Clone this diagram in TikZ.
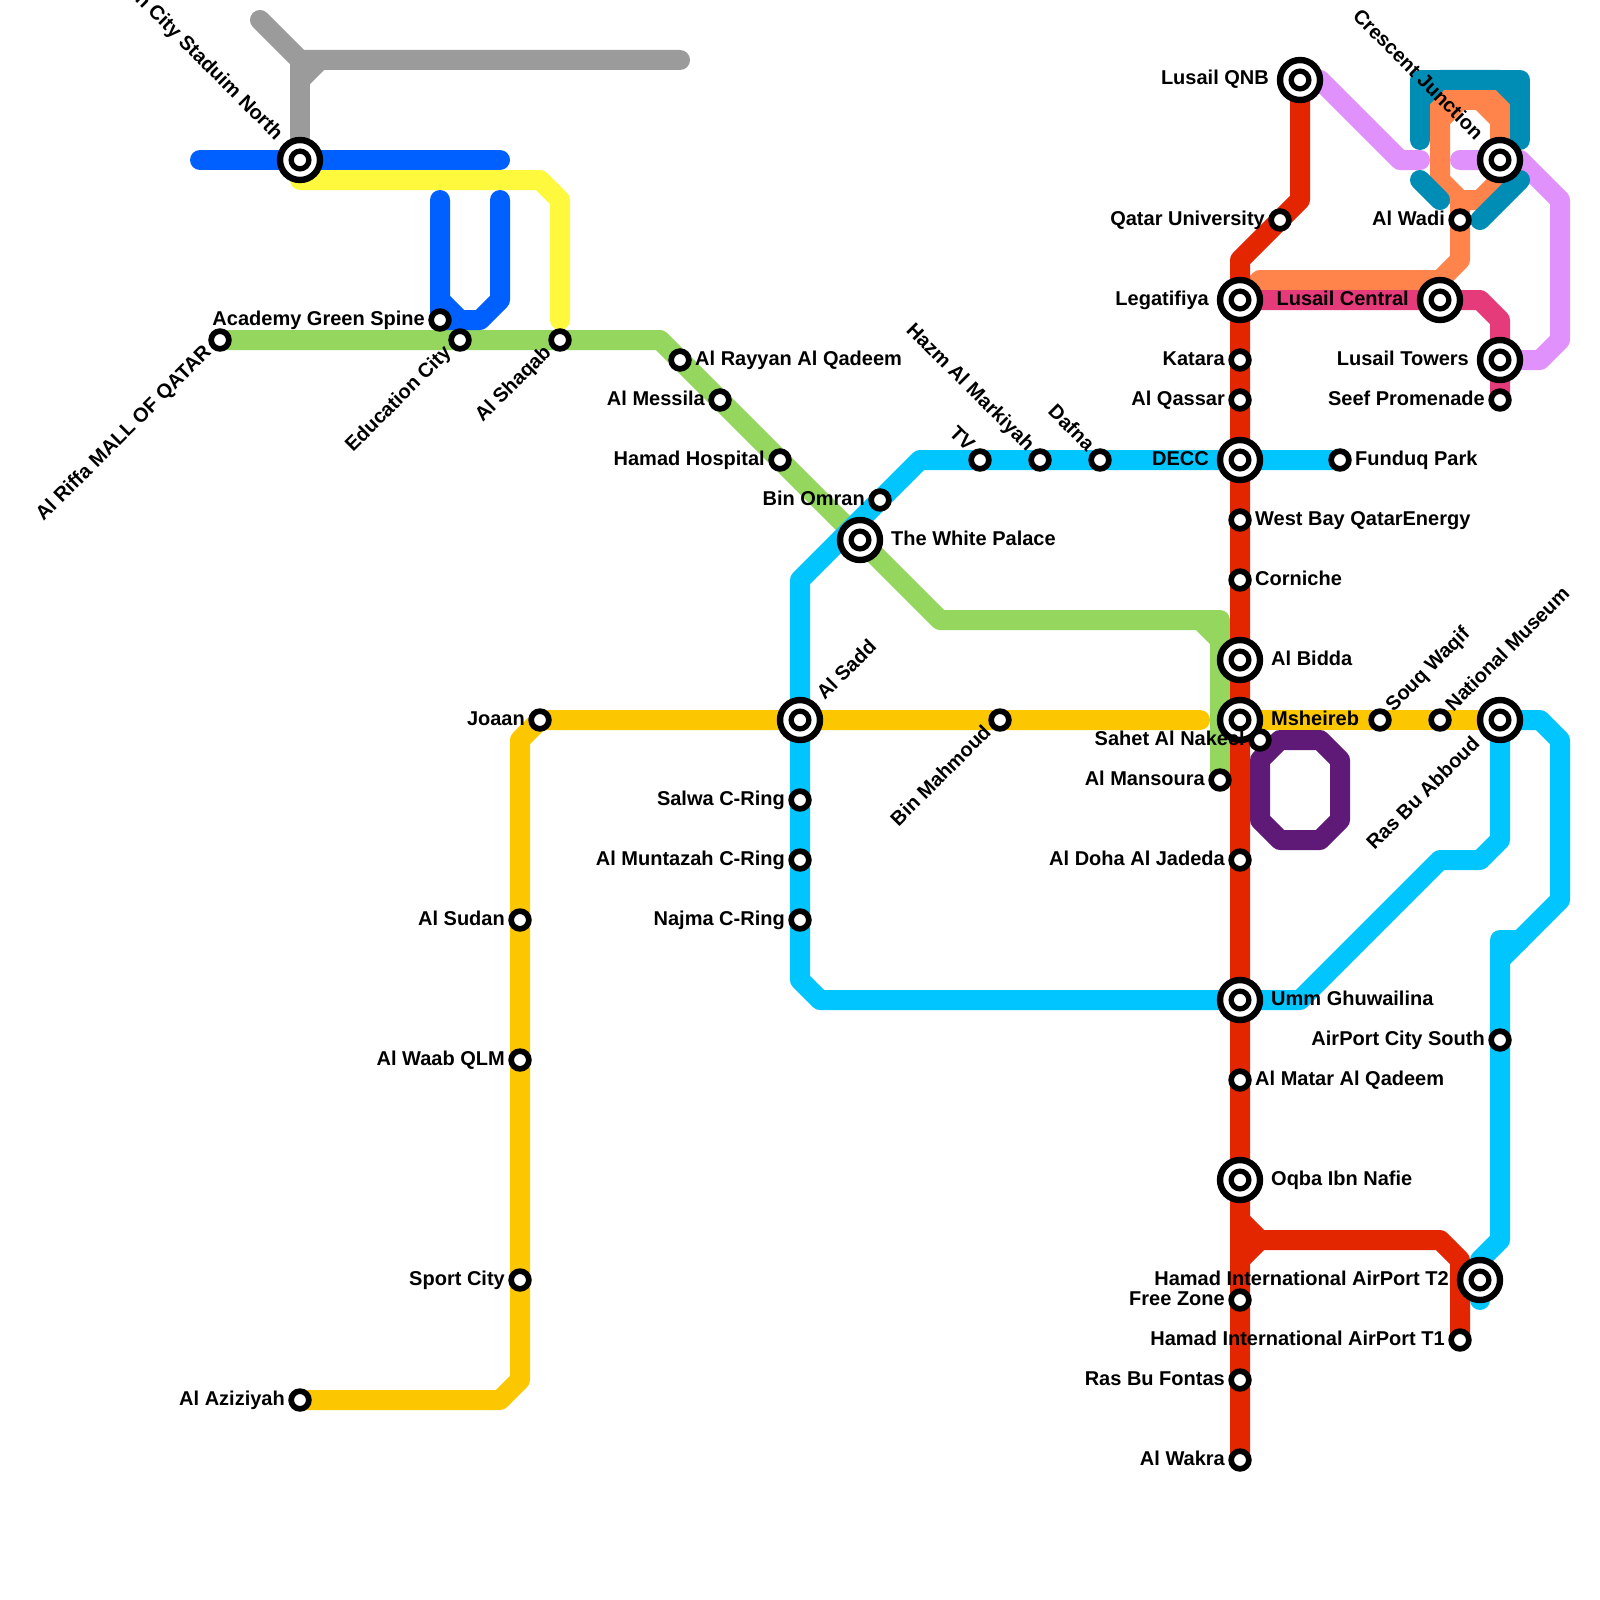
\documentclass[tikz,border=0pt]{standalone}
\usepackage{fontspec}
\setmainfont{Liberation Sans}
\usetikzlibrary{calc,backgrounds}
\definecolor{cRed}{HTML}{E32500}
\definecolor{cCyan}{HTML}{00C5FF}
\definecolor{cGreen}{HTML}{95D65F}
\definecolor{cGold}{HTML}{FDC700}
\definecolor{cBlue}{HTML}{0060FF}
\definecolor{cYellow}{HTML}{FFF93E}
\definecolor{cGray}{HTML}{9B9B9B}
\definecolor{cTeal}{HTML}{008DB5}
\definecolor{cOrange}{HTML}{FF844B}
\definecolor{cViolet}{HTML}{E091FB}
\definecolor{cPink}{HTML}{E63B7A}
\definecolor{cPurple}{HTML}{5F1A78}
\tikzset{
  route/.style={draw=#1,line width=20pt,line cap=round,line join=round},
  smallstn/.style={circle,draw=black,fill=white,line width=5.7pt,minimum size=17.7pt,inner sep=0pt},
  bigstn/.style={circle,draw=black,fill=white,line width=6.4pt,minimum size=40pt,inner sep=0pt},
  hubdot/.style={circle,draw=black,fill=white,line width=5.3pt,minimum size=17.7pt,inner sep=0pt},
  lbl/.style={font=\fontsize{20}{20}\selectfont\bfseries,inner sep=0pt,text=black}
}
% small / interchange stations
\newcommand{\sst}[2]{\node[smallstn] (#1) at (#2) {};}
\newcommand{\bst}[2]{\node[bigstn] (#1) at (#2) {};\node[hubdot] (#1-dot) at (#2) {};}
% horizontal labels: #1 name, #2 station, #3 gap, #4 text
\newcommand{\ltxt}[4]{\node[lbl,anchor=base east] (#1) at ($(#2.center)+(-#3,5)$) {#4};}
\newcommand{\rtxt}[4]{\node[lbl,anchor=base west] (#1) at ($(#2.center)+(#3,5)$) {#4};}
% rotated labels
\newcommand{\upstart}[4]{\node[lbl,rotate=45,anchor=base west] (#1) at ($(#2.center)+({(#3+4)*0.707},{(4-#3)*0.707})$) {#4};}
\newcommand{\upend}[4]{\node[lbl,rotate=45,anchor=base east] (#1) at ($(#2.center)+({(4-#3)*0.707},{(#3+4)*0.707})$) {#4};}
\newcommand{\downend}[4]{\node[lbl,rotate=-45,anchor=base east] (#1) at ($(#2.center)+({(-#3-4)*0.707},{(4-#3)*0.707})$) {#4};}
\begin{document}
\begin{tikzpicture}[x=1pt,y=-1pt]
\useasboundingbox (0,0) rectangle (1600,1600);
% stations
\bst{qnb}{1300,80}
\bst{crescent}{1500,160}
\sst{wadi}{1460,220}
\sst{qatu}{1280,220}
\bst{legat}{1240,300}
\bst{central}{1440,300}
\bst{towers}{1500,360}
\sst{seef}{1500,400}
\sst{katara}{1240,360}
\sst{qassar}{1240,400}
\bst{decc}{1240,460}
\sst{funduq}{1340,460}
\sst{westbay}{1240,520}
\sst{corniche}{1240,580}
\bst{bidda}{1240,660}
\bst{msheireb}{1240,720}
\sst{nakeel}{1260,740}
\sst{mansoura}{1220,780}
\sst{doha}{1240,860}
\bst{umm}{1240,1000}
\sst{matar}{1240,1080}
\bst{oqba}{1240,1180}
\sst{freezone}{1240,1300}
\sst{fontas}{1240,1380}
\sst{wakra}{1240,1460}
\sst{tone}{1460,1340}
\bst{ttwo}{1480,1280}
\sst{cityS}{1500,1040}
\bst{abboud}{1500,720}
\sst{museum}{1440,720}
\sst{souq}{1380,720}
\sst{mahmoud}{1000,720}
\bst{sadd}{800,720}
\sst{joaan}{540,720}
\sst{salwa}{800,800}
\sst{muntazah}{800,860}
\sst{najma}{800,920}
\sst{sudan}{520,920}
\sst{waab}{520,1060}
\sst{sport}{520,1280}
\sst{aziz}{300,1400}
\bst{palace}{860,540}
\sst{omran}{880,500}
\sst{tv}{980,460}
\sst{hazm}{1040,460}
\sst{dafna}{1100,460}
\sst{hospital}{780,460}
\sst{messila}{720,400}
\sst{rayyan}{680,360}
\sst{shaqab}{560,340}
\sst{educ}{460,340}
\sst{academy}{440,320}
\sst{riffa}{220,340}
\bst{stadium}{300,160}
% routes
\begin{scope}[on background layer]
\draw[route=cGray] (260,20) -- (300,60) -- (680,60);
\draw[route=cGray] (stadium.center) -- (300,60);
\draw[route=cGray] (300,80) -- (320,60);
\draw[route=cYellow] (stadium.center) ++(0,20) -- (540,180) -- (560,200) -- (560,320);
\draw[route=cGreen] (riffa.center) -- (660,340) -- (rayyan.center) -- (messila.center) -- (hospital.center) -- (palace.center) -- (940,620) -- (1200,620) -- (1220,640) -- (mansoura.center);
\draw[route=cGreen] (1200,620) -- (1220,620) -- (1220,640);
\draw[route=cBlue] (200,160) -- (stadium.center) -- (500,160);
\draw[route=cBlue] (440,200) -- (academy.center) -- (480,320) -- (500,300) -- (500,200);
\draw[route=cBlue] (440,300) -- (460,320);
\draw[route=cGold] (aziz.center) -- (500,1400) -- (520,1380) -- (sport.center) -- (waab.center) -- (sudan.center) -- (520,740) -- (joaan.center) -- (sadd.center) -- (mahmoud.center) -- (1200,720);
\draw[route=cGold] (msheireb.center) -- (souq.center) -- (museum.center) -- (abboud.center);
\draw[route=cCyan] (funduq.center) -- (decc.center) -- (dafna.center) -- (hazm.center) -- (tv.center) -- (920,460) -- (omran.center) -- (800,580) -- (sadd.center) -- (salwa.center) -- (muntazah.center) -- (najma.center) -- (800,980) -- (820,1000) -- (umm.center) -- (1300,1000) -- (1440,860) -- (1480,860) -- (1500,840) -- (abboud.center) -- (1540,720) -- (1560,740) -- (1560,900) -- (1500,960);
\draw[route=cCyan] (1520,940) -- (1500,940) -- (cityS.center) -- (1500,1240) -- (1480,1260) -- (ttwo.center) -- (1480,1300);
\draw[route=cPurple] (1280,740) -- (1320,740) -- (1340,760) -- (1340,820) -- (1320,840) -- (1280,840) -- (1260,820) -- (1260,760) -- cycle;
\draw[route=cViolet] (qnb.center) -- (1320,80) -- (1400,160) -- (1420,160);
\draw[route=cViolet] (1460,160) -- (crescent.center) -- (1520,160) -- (1560,200) -- (1560,340) -- (1540,360) -- (towers.center);
\draw[route=cOrange] (legat.center) -- (1260,280) -- (1440,280) -- (1460,260) -- (wadi.center) -- (1460,200);
\draw[route=cOrange] (1440,180) -- (1460,200) -- (1480,200) -- (1500,180) -- (1500,120) -- (1480,100) -- (1460,100) -- (1440,120) -- cycle;
\draw[route=cOrange] (1440,120) -- (1440,100) -- (1500,100) -- (1500,120);
\draw[route=cPink] (legat.center) -- (central.center) -- (1480,300) -- (1500,320) -- (towers.center) -- (seef.center);
\draw[route=cTeal] (1420,140) -- (1420,80) -- (1520,80) -- (1520,140);
\draw[route=cTeal] (1420,100) -- (1440,80) -- (1500,80) -- (1520,100);
\draw[route=cTeal] (1420,180) -- (1440,200);
\draw[route=cTeal] (1480,220) -- (1520,180);
\draw[route=cRed] (qnb.center) -- (1300,200) -- (qatu.center) -- (1240,260) -- (legat.center) -- (wakra.center);
\draw[route=cRed] (1240,1220) -- (1260,1240) -- (1440,1240) -- (1460,1260) -- (tone.center);
\draw[route=cRed] (1240,1260) -- (1260,1240);
\end{scope}
% labels
\ltxt{l-qnb}{qnb}{31}{Lusail QNB}
\ltxt{l-qatu}{qatu}{15}{Qatar University}
\ltxt{l-wadi}{wadi}{15}{Al Wadi}
\ltxt{l-legat}{legat}{31}{Legatifiya}
\ltxt{l-central}{central}{31}{Lusail Central}
\ltxt{l-towers}{towers}{31}{Lusail Towers}
\ltxt{l-seef}{seef}{15}{Seef Promenade}
\ltxt{l-katara}{katara}{15}{Katara}
\ltxt{l-qassar}{qassar}{15}{Al Qassar}
\ltxt{l-decc}{decc}{31}{DECC}
\rtxt{l-funduq}{funduq}{15}{Funduq Park}
\rtxt{l-westbay}{westbay}{15}{West Bay QatarEnergy}
\rtxt{l-corniche}{corniche}{15}{Corniche}
\rtxt{l-bidda}{bidda}{31}{Al Bidda}
\rtxt{l-msheireb}{msheireb}{31}{Msheireb}
\ltxt{l-nakeel}{nakeel}{15}{Sahet Al Nakeel}
\ltxt{l-mansoura}{mansoura}{15}{Al Mansoura}
\ltxt{l-doha}{doha}{15}{Al Doha Al Jadeda}
\rtxt{l-umm}{umm}{31}{Umm Ghuwailina}
\rtxt{l-matar}{matar}{15}{Al Matar Al Qadeem}
\rtxt{l-oqba}{oqba}{31}{Oqba Ibn Nafie}
\ltxt{l-freezone}{freezone}{15}{Free Zone}
\ltxt{l-fontas}{fontas}{15}{Ras Bu Fontas}
\ltxt{l-wakra}{wakra}{15}{Al Wakra}
\ltxt{l-tone}{tone}{15}{Hamad International AirPort T1}
\ltxt{l-ttwo}{ttwo}{31}{Hamad International AirPort T2}
\ltxt{l-cityS}{cityS}{15}{AirPort City South}
\ltxt{l-joaan}{joaan}{15}{Joaan}
\ltxt{l-salwa}{salwa}{15}{Salwa C-Ring}
\ltxt{l-muntazah}{muntazah}{15}{Al Muntazah C-Ring}
\ltxt{l-najma}{najma}{15}{Najma C-Ring}
\ltxt{l-sudan}{sudan}{15}{Al Sudan}
\ltxt{l-waab}{waab}{15}{Al Waab QLM}
\ltxt{l-sport}{sport}{15}{Sport City}
\ltxt{l-aziz}{aziz}{15}{Al Aziziyah}
\rtxt{l-palace}{palace}{31}{The White Palace}
\ltxt{l-omran}{omran}{15}{Bin Omran}
\ltxt{l-hospital}{hospital}{15}{Hamad Hospital}
\ltxt{l-messila}{messila}{15}{Al Messila}
\rtxt{l-rayyan}{rayyan}{15}{Al Rayyan Al Qadeem}
\ltxt{l-academy}{academy}{15}{Academy Green Spine}
\upstart{l-sadd}{sadd}{31}{Al Sadd}
\upstart{l-souq}{souq}{15}{Souq Waqif}
\upstart{l-museum}{museum}{15}{National Museum}
\upend{l-riffa}{riffa}{15}{Al Riffa MALL OF QATAR}
\upend{l-educ}{educ}{15}{Education City}
\upend{l-shaqab}{shaqab}{15}{Al Shaqab}
\upend{l-mahmoud}{mahmoud}{15}{Bin Mahmoud}
\upend{l-abboud}{abboud}{31}{Ras Bu Abboud}
\downend{l-tv}{tv}{15}{TV}
\downend{l-hazm}{hazm}{15}{Hazm Al Markiyah}
\downend{l-dafna}{dafna}{15}{Dafna}
\downend{l-crescent}{crescent}{31}{Crescent Junction}
\downend{l-stadium}{stadium}{31}{Education City Staduim North}
\end{tikzpicture}
\end{document}
